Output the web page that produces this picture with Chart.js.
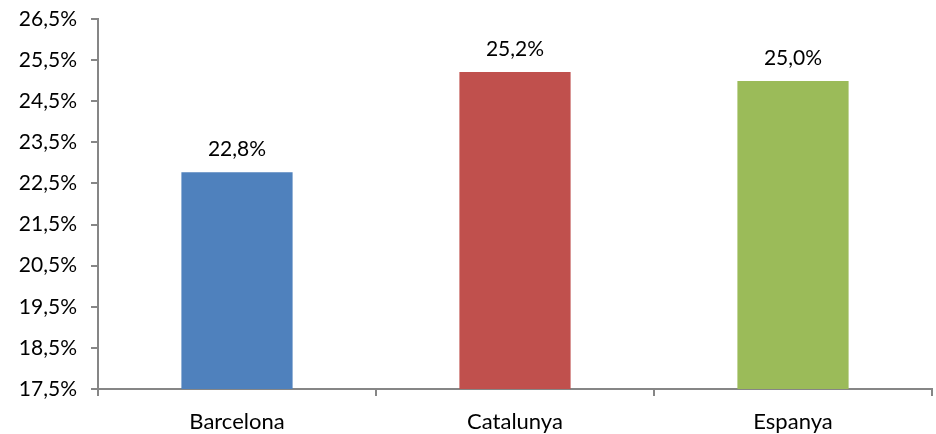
<!DOCTYPE html>
<html>
<head>
<meta charset="utf-8">
<script src="https://cdn.jsdelivr.net/npm/chart.js@4"></script>
<style>
  html, body { margin: 0; padding: 0; background: #fff; }
  #wrap { width: 936px; height: 434px; }
</style>
</head>
<body>
<div id="wrap"><canvas id="chartCanvas"></canvas></div>
<script>
const categories = ["Barcelona", "Catalunya", "Espanya"];
const values = [22.77, 25.21, 24.99];
const barColors = ["#4F81BD", "#C0504D", "#9BBB59"];
const yMin = 17.5;
const yMax = 26.5;

const fmt = (v) => v.toFixed(1).replace(".", ",") + "%";

// --- value labels above each bar ---
const barLabels = {
  id: "barLabels",
  afterDatasetsDraw(chart) {
    const ctx = chart.ctx;
    const meta = chart.getDatasetMeta(0);
    ctx.save();
    ctx.font = "21px Lato";
    ctx.fillStyle = "#000";
    ctx.textAlign = "center";
    ctx.textBaseline = "alphabetic";
    meta.data.forEach((bar, i) => {
      ctx.fillText(fmt(values[i]), bar.x, bar.y - 16);
    });
    ctx.restore();
  }
};

const ctx = document.getElementById("chartCanvas").getContext("2d");
new Chart(ctx, {
  type: "bar",
  data: {
    labels: categories,
    datasets: [{
      data: values,
      backgroundColor: barColors,
      categoryPercentage: 1,
      barPercentage: 0.4
    }]
  },
  options: {
    responsive: true,
    maintainAspectRatio: false,
    animation: false,
    layout: { padding: { left: 0, right: 4, top: 19, bottom: 0 } },
    plugins: {
      legend: { display: false },
      tooltip: { enabled: false }
    },
    scales: {
      x: {
        grid: { offset: true, drawOnChartArea: false, tickLength: 7, color: "#868686", lineWidth: 2 },
        border: { color: "#868686", width: 2 },
        ticks: { color: "#000", font: { family: "Lato", size: 22 }, padding: 13 },
        afterFit(scale) {
          scale.height = 45;
          scale.paddingLeft = 0;
          scale.paddingRight = 0;
        }
      },
      y: {
        min: yMin,
        max: yMax,
        grid: { drawOnChartArea: false, tickLength: 7, color: "#868686", lineWidth: 2 },
        border: { color: "#868686", width: 2 },
        ticks: {
          stepSize: 1,
          color: "#000",
          font: { family: "Lato", size: 21 },
          padding: 14,
          callback: (v) => fmt(v)
        },
        afterFit(scale) {
          scale.width = 98;
          scale.paddingTop = 0;
          scale.paddingBottom = 0;
        }
      }
    }
  },
  plugins: [barLabels]
});
</script>
</body>
</html>
